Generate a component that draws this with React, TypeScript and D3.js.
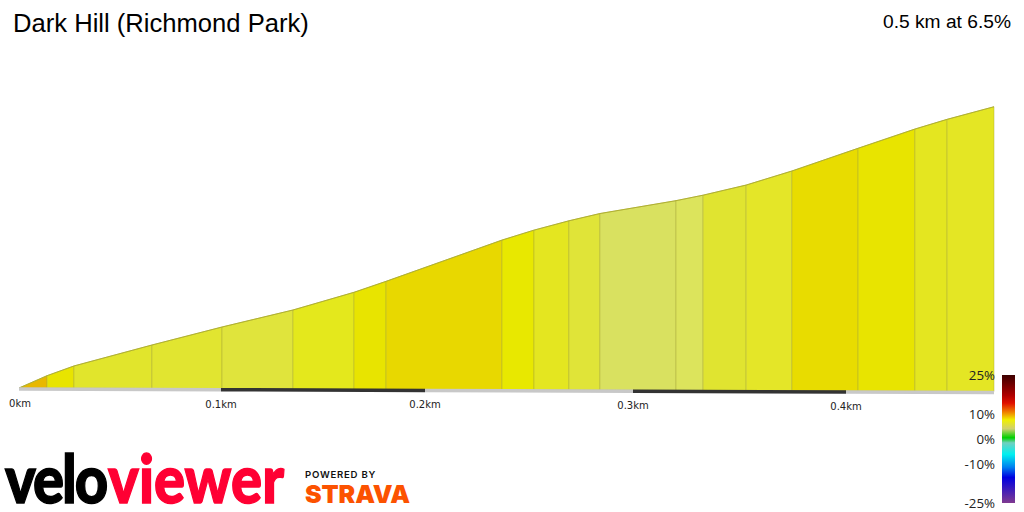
import React from "react";
import * as d3 from "d3";

const title = "Dark Hill (Richmond Park)";
const summary = "0.5 km at 6.5%";
const distances = [0, 0.0139, 0.0272, 0.0658, 0.1005, 0.1353, 0.1652, 0.1809, 0.237, 0.2524, 0.2692, 0.2841, 0.3202, 0.3329, 0.3531, 0.3746, 0.4057, 0.4326, 0.4478, 0.47];
const elevations = [0, 1.38, 2.47, 4.83, 6.86, 8.78, 10.77, 12.0, 16.63, 17.75, 18.8, 19.62, 21.08, 21.7, 22.84, 24.42, 26.97, 29.13, 30.22, 31.64];
const segmentColors = ["#e8b800", "#e8e400", "#e1e52c", "#e1e530", "#e0e43c", "#e4e81c", "#e8e400", "#e8d800", "#e8e800", "#e4e620", "#e0e438", "#d9e160", "#dce45c", "#e0e430", "#e4e628", "#e8dc00", "#e8e400", "#e4e620", "#e4e624"];
const tickKm = [0, 0.1, 0.2, 0.3, 0.4];
const tickLabels = ["0km", "0.1km", "0.2km", "0.3km", "0.4km"];
const stripStops = [0, 0.1, 0.2, 0.3, 0.4, 0.47];
const legendGrades = [25, 10, 0, -10, -25];
const legendLabels = ["25%", "10%", "0%", "-10%", "-25%"];
const legendOffsets = [0, 0.16, 0.22, 0.29, 0.35, 0.42, 0.49, 0.53, 0.62, 0.72, 0.8, 1];
const legendColors = ["#3c0000", "#b00000", "#e01000", "#f08000", "#f0f000", "#d0d070", "#00d000", "#70d0c0", "#00f0f0", "#0080f0", "#0000e0", "#803a90"];

const FONT_SANS = "'Liberation Sans', Arial, sans-serif";

export default function App() {
  const x = d3.scaleLinear().domain([0, 0.1, 0.2, 0.3, 0.4, 0.47]).range([19, 221, 425, 633, 846, 994]);
  const base = d3.scaleLinear().domain([0, 0.47]).range([388, 391.5]);
  const rise = d3.scaleLinear().domain([0, 32]).range([0, 288]);
  const top = (i: number) => base(distances[i]) - rise(elevations[i]);
  const legendY = d3.scaleLinear().domain([25, 10, 0, -10, -25]).range([375, 414, 439, 464, 503]);

  const segments = segmentColors.map((c, i) => {
    const area = d3.line<[number, number]>()([
      [x(distances[i]), base(distances[i])],
      [x(distances[i]), top(i)],
      [x(distances[i + 1]), top(i + 1)],
      [x(distances[i + 1]), base(distances[i + 1])],
    ]) + "Z";
    return { c, area };
  });
  const outline = d3.line<number>().x((_, i) => x(distances[i])).y((_, i) => top(i))(distances) || "";

  return (
    <svg width={1024} height={512} style={{ position: "absolute", left: 0, top: 0, background: "#fff" }}>
      <defs>
        <linearGradient id="legend" x1="0" y1="0" x2="0" y2="1">
          {legendOffsets.map((o, i) => <stop key={i} offset={o} stopColor={legendColors[i]} />)}
        </linearGradient>
      </defs>
      <text x={13} y={32} fontFamily={FONT_SANS} fontSize={25.6} fill="#000">{title}</text>
      <text x={1011} y={28} textAnchor="end" fontFamily={FONT_SANS} fontSize={19.2} fill="#000">{summary}</text>

      {segments.map((s, i) => (
        <path key={i} d={s.area} fill={s.c} stroke="#a8a838" strokeOpacity={0.45} strokeWidth={1} />
      ))}
      <path d={outline} fill="none" stroke="#b0b030" strokeWidth={1} />

      {stripStops.slice(0, -1).map((d, i) => (
        <line key={i} x1={x(d)} x2={x(stripStops[i + 1])} y1={base(d) + 1} y2={base(stripStops[i + 1]) + 1}
          stroke={i % 2 === 1 ? "#333333" : "#c8c8c8"} strokeWidth={3.5} />
      ))}

      {tickKm.map((d, i) => (
        <text key={i} x={i === 0 ? 20 : x(d)} y={base(d) + 19} textAnchor="middle"
          fontFamily="'DejaVu Sans', sans-serif" fontSize={10} fill="#222">{tickLabels[i]}</text>
      ))}

      <rect x={1002} y={375} width={13} height={128} fill="url(#legend)" />
      {legendGrades.map((g, i) => (
        <text key={i} x={995} y={legendY(g) + 4.5} textAnchor="end"
          fontFamily="'Open Sans', sans-serif" fontSize={13.3} fill="#222">{legendLabels[i]}</text>
      ))}

      <text transform="translate(5,503) scale(1,1.15)" fontFamily="Lato, Inter, sans-serif" fontWeight={900} fontSize={58}
        letterSpacing={-2} stroke="#000" strokeWidth={1.2} fill="#000">velo</text>
      <text transform="translate(108,503) scale(1,1.15)" fontFamily="Lato, Inter, sans-serif" fontWeight={900} fontSize={58}
        stroke="#ff0033" strokeWidth={1.2} fill="#ff0033">viewer</text>
      <text x={305} y={478} fontFamily="Inter, 'Noto Sans', sans-serif" fontWeight={600} fontSize={9.6} letterSpacing={0.75} fill="#111">POWERED BY</text>
      <text x={305} y={503} fontFamily="Inter, 'Noto Sans', sans-serif" fontWeight={900} fontSize={25} letterSpacing={-0.1} fill="#fc5200">STRAVA</text>
    </svg>
  );
}
